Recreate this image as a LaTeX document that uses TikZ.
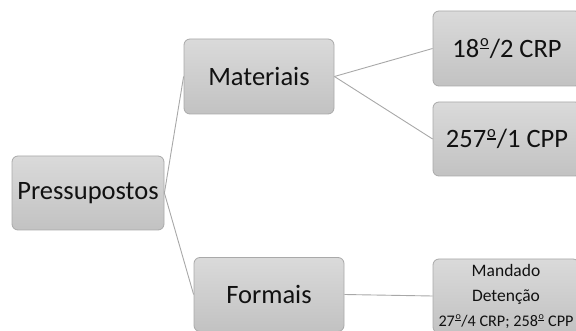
\documentclass[tikz,border=0pt]{standalone}
\usepackage{fontspec}
\setmainfont{Carlito}
\definecolor{boxtop}{HTML}{DADADA}
\definecolor{boxbot}{HTML}{C2C2C2}
\definecolor{boxline}{HTML}{A9A9A9}
\definecolor{linkcol}{HTML}{A8A8A8}
\definecolor{txt}{HTML}{111111}
% masculine ordinal indicator drawn as a raised small o over a bar
\newcommand\masord{\makebox[.40em][c]{\raisebox{.40em}{\scalebox{.62}{o}}\llap{\rule[.30em]{.34em}{.06em}}}}
\begin{document}
\begin{tikzpicture}[x=1pt,y=-1pt,
  topic/.style={draw=boxline, line width=0.8pt, rounded corners=6pt,
    top color=boxtop, bottom color=boxbot, inner sep=0pt,
    text=txt, font=\fontsize{26.5}{30}\selectfont},
  link/.style={draw=linkcol, line width=0.9pt}]
\useasboundingbox (0,0) rectangle (576,331);
\clip (0,0) rectangle (576,331);
\node[topic, minimum width=152pt, minimum height=74pt] (pres) at (88,193) {Pressupostos};
\node[topic, minimum width=150pt, minimum height=75pt] (mat) at (259,76.5) {Materiais};
\node[topic, minimum width=150pt, minimum height=74pt] (form) at (269,294.5) {Formais};
\node[topic, minimum width=148pt, minimum height=75pt] (crp) at (507,48.5) {18\masord/2 CRP};
\node[topic, minimum width=148pt, minimum height=74pt] (cpp) at (507,139) {257\masord/1 CPP};
\node[topic, minimum width=146pt, minimum height=74pt, align=center,
  font=\fontsize{17.5}{25}\selectfont] (mand) at (506,296)
  {Mandado\\Detenção\\{\fontsize{16.2}{25}\selectfont 27\masord/4 CRP; 258\masord{} CPP}};
\draw[link] (pres.east) -- (mat.west);
\draw[link] (pres.east) -- (form.west);
\draw[link] (mat.east) -- (crp.west);
\draw[link] (mat.east) -- (cpp.west);
\draw[link] (form.east) -- (mand.west);
\end{tikzpicture}
\end{document}
